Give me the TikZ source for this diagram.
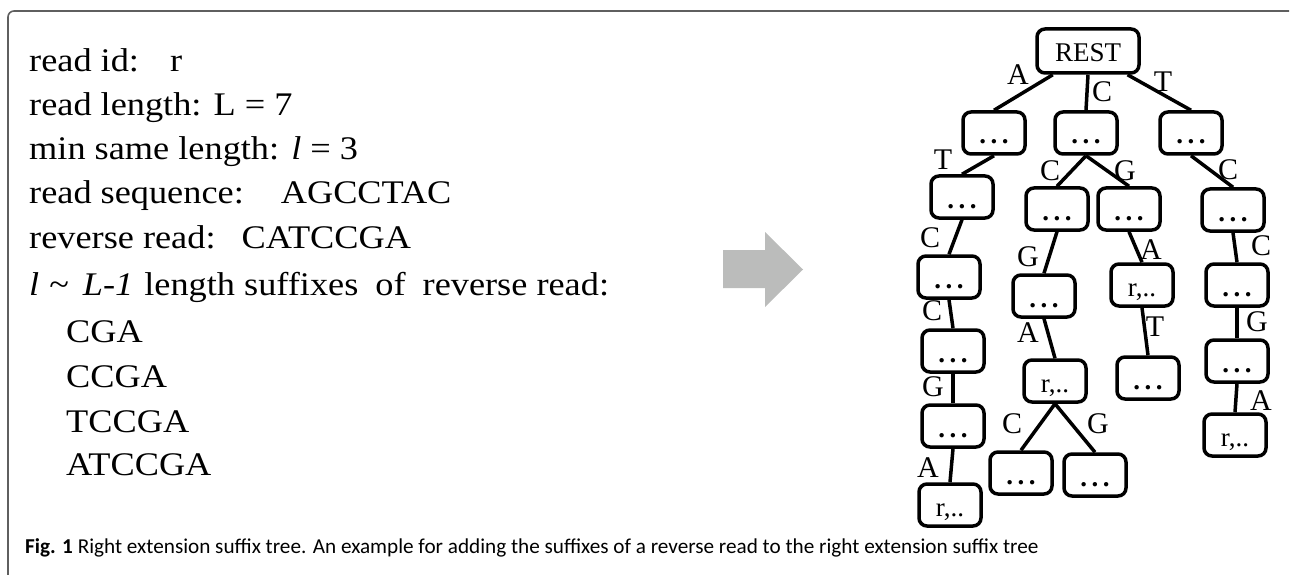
\documentclass[tikz,border=0pt]{standalone}
\usepackage{fontspec}
\setmainfont{Liberation Serif}
\newfontfamily\readfont[FakeStretch=1.1]{Liberation Serif}
\newfontfamily\capfont{Carlito}
\usetikzlibrary{arrows.meta,positioning,calc}
\definecolor{FrameGray}{RGB}{95,95,95}
\definecolor{ArrowGray}{RGB}{187,188,187}
\tikzset{
  readline/.style={anchor=base west,inner sep=0pt,font=\readfont\fontsize{33}{40}\selectfont},
  triebox/.style={draw=black,line width=3.5pt,rounded corners=8pt,fill=white,minimum width=62pt,minimum height=42pt,inner sep=0pt,text height=22pt,text depth=0pt,font=\fontsize{27}{30}\selectfont},
  rootbox/.style={triebox,minimum width=102pt,minimum height=44pt},
  branch/.style={line width=3.5pt,draw=black},
  letter/.style={inner sep=0pt,font=\fontsize{30}{32}\selectfont},
  frame/.style={draw=FrameGray,line width=1.6pt,rounded corners=6pt},
  caption/.style={anchor=base west,inner sep=0pt,font=\capfont\fontsize{21.2}{25}\selectfont}
}
\newcommand\dotsbox{\textbf{.\,.\,.}}

\begin{document}
\begin{tikzpicture}[x=1pt,y=-1pt]
  \useasboundingbox (0,0) rectangle (1291,575);
  \draw[frame] (1289,11) -- (8,11) -- (8,577);

  \node[readline] (rid) at (29,72) {read id:\hspace*{31pt}r};
  \node[readline] (rlen) at (29,116) {read length: L = 7};
  \node[readline] (minlen) at (29,160) {min same length: \textit{l} = 3};
  \node[readline] (rseq) at (29,204) {read sequence:\hspace*{37pt}AGCCTAC};
  \node[readline] (rrev) at (29,248) {reverse read:\hspace*{26pt}CATCCGA};
  \node[readline] (sufhead) at (29,295) {\textit{l}\hspace*{10pt}\textasciitilde\hspace*{14pt}\textit{L-1}\hspace*{11pt}length suffixes\hspace*{17pt}of\hspace*{17pt}reverse read:};
  \node[readline] (suf3) at (66,342) {CGA};
  \node[readline] (suf4) at (66,387) {CCGA};
  \node[readline] (suf5) at (66,432) {TCCGA};
  \node[readline] (suf6) at (66,475) {ATCCGA};

  \fill[ArrowGray] (723,250) -- (765,250) -- (765,232) -- (803,269.5) -- (765,307) -- (765,288) -- (723,288) -- cycle;

  \node[rootbox] (rest) at (1088,51) {REST};
  \node[triebox] (a1) at (994,133) {\dotsbox};
  \node[triebox] (c1) at (1086,133) {\dotsbox};
  \node[triebox] (t1) at (1191,133) {\dotsbox};
  \node[triebox] (at2) at (962,197) {\dotsbox};
  \node[triebox] (cc2) at (1057,209) {\dotsbox};
  \node[triebox] (cg2) at (1129,209) {\dotsbox};
  \node[triebox] (tc2) at (1233,210) {\dotsbox};
  \node[triebox] (atc3) at (949,277) {\dotsbox};
  \node[triebox] (ccg3) at (1044,296) {\dotsbox};
  \node[triebox] (cga3) at (1142,285) {r,..};
  \node[triebox] (tcc3) at (1237,285) {\dotsbox};
  \node[triebox] (atcc4) at (953,351) {\dotsbox};
  \node[triebox] (ccga4) at (1055,381) {r,..};
  \node[triebox] (cgat4) at (1148,378) {\dotsbox};
  \node[triebox] (tccg4) at (1237,361) {\dotsbox};
  \node[triebox] (atccg5) at (953,426) {\dotsbox};
  \node[triebox] (ccgac5) at (1021,473) {\dotsbox};
  \node[triebox] (ccgag5) at (1095,475) {\dotsbox};
  \node[triebox] (tccga5) at (1235,435) {r,..};
  \node[triebox] (atccga6) at (950,505) {r,..};

  \draw[branch] (rest.-146) -- (a1.north);
  \draw[branch] (rest.south) -- (c1.north);
  \draw[branch] (rest.-31) -- (t1.north);
  \foreach \p/\c in {a1/at2,c1/cc2,c1/cg2,t1/tc2,at2/atc3,cc2/ccg3,cg2/cga3,tc2/tcc3,
      atc3/atcc4,ccg3/ccga4,cga3/cgat4,tcc3/tccg4,atcc4/atccg5,ccga4/ccgac5,ccga4/ccgag5,
      tccg4/tccga5,atccg5/atccga6}
    \draw[branch] (\p.south) -- (\c.north);

  \foreach \n/\t/\x/\y in {1/A/1018/75,2/C/1102/92,3/T/1163/82,
      4/T/943/160,5/C/1050/171,6/G/1125/171,7/C/1228/170,
      8/C/930/238,9/G/1028/257,10/A/1151/250,11/C/1261/246,
      12/C/932/311,13/A/1028/333,14/T/1155/327,15/G/1257/322,
      16/G/933/387,17/C/1012/424,18/G/1098/424,19/A/1261/401,
      20/A/928/468}
    \node[letter] (lbl\n) at (\x,\y) {\t};

  \node[caption] (cap) at (25,553) {\textbf{Fig. 1} Right extension suffix tree. An example for adding the suffixes of a reverse read to the right extension suffix tree};
\end{tikzpicture}
\end{document}
